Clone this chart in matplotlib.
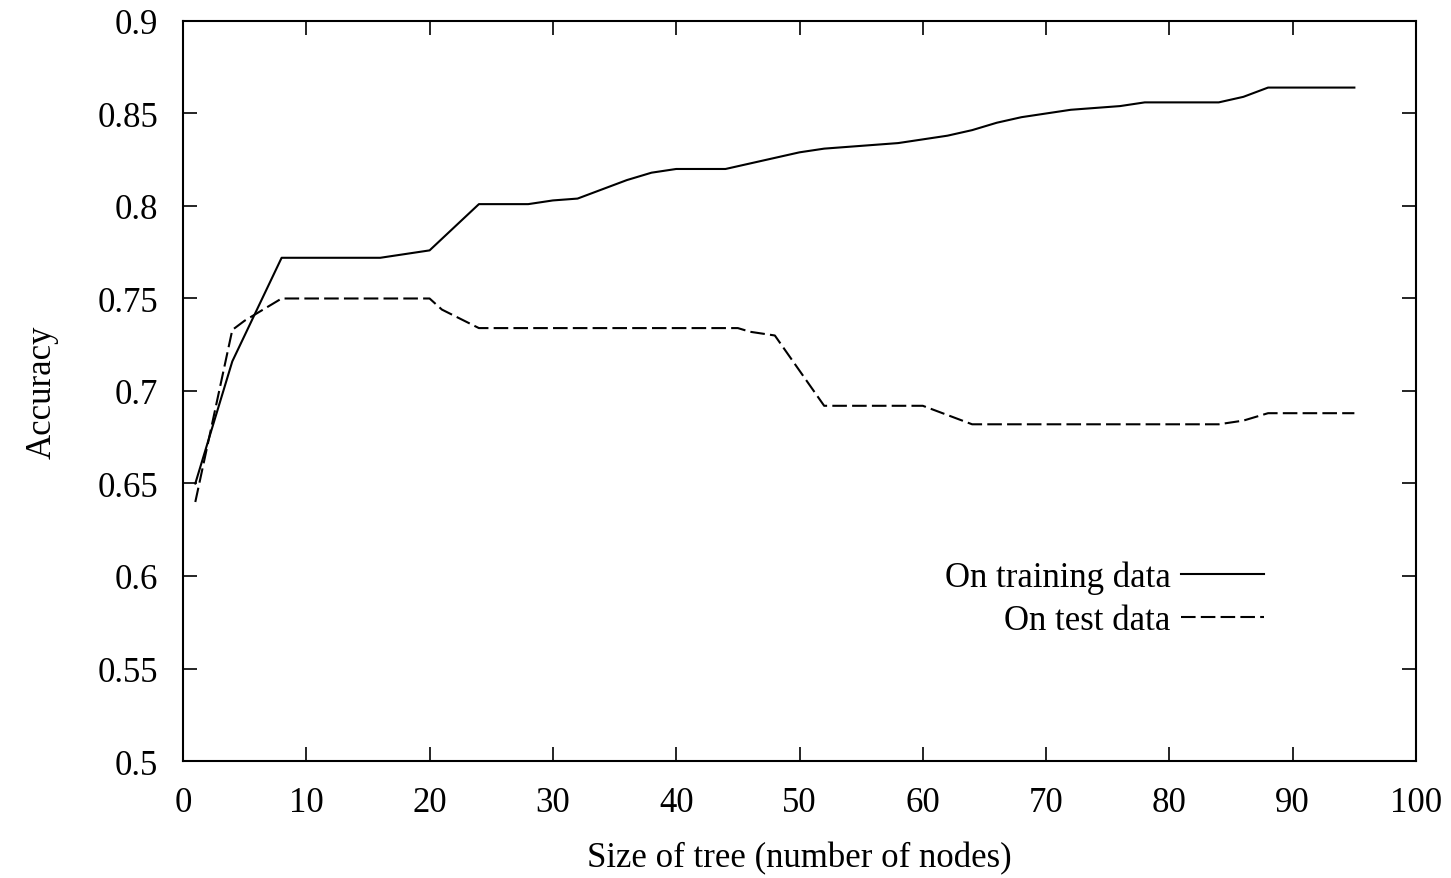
import matplotlib
matplotlib.use('Agg')
import matplotlib.pyplot as plt
from matplotlib.ticker import FuncFormatter

# Accuracy vs. tree size
train_size = [1, 4, 8, 16, 18, 20, 24, 28, 30, 32, 34, 36, 38, 40, 44, 46, 48, 50,
              52, 54, 56, 58, 60, 62, 64, 66, 68, 70, 72, 74, 76, 78, 84, 86, 88, 95]
train_acc = [0.650, 0.716, 0.772, 0.772, 0.774, 0.776, 0.801, 0.801, 0.803, 0.804,
             0.809, 0.814, 0.818, 0.820, 0.820, 0.823, 0.826, 0.829, 0.831, 0.832,
             0.833, 0.834, 0.836, 0.838, 0.841, 0.845, 0.848, 0.850, 0.852, 0.853,
             0.854, 0.856, 0.856, 0.859, 0.864, 0.864]

test_size = [1, 4, 5, 6, 8, 20, 21, 24, 45, 46, 48, 52, 60, 64, 84, 86, 87, 88, 95]
test_acc = [0.640, 0.733, 0.738, 0.742, 0.750, 0.750, 0.744, 0.734, 0.734, 0.732,
            0.730, 0.692, 0.692, 0.682, 0.682, 0.684, 0.686, 0.688, 0.688]

x_ticks = list(range(0, 101, 10))
y_ticks = [0.5, 0.55, 0.6, 0.65, 0.7, 0.75, 0.8, 0.85, 0.9]

plt.rcParams['font.family'] = ['Liberation Serif', 'DejaVu Serif']
FS = 25

fig = plt.figure(figsize=(14.51, 8.79), dpi=100)
ax = fig.add_axes([0.1261, 0.1331, 0.8498, 0.8419])

ax.plot(train_size, train_acc, color='black', lw=1.5, label='On training data')
ax.plot(test_size, test_acc, color='black', lw=1.5, dashes=(7, 2.5),
        label='On test data')

ax.set_xlim(0, 100)
ax.set_ylim(0.5, 0.9)
ax.set_xticks(x_ticks)
ax.set_yticks(y_ticks)
ax.yaxis.set_major_formatter(FuncFormatter(lambda v, p: f"{v:g}"))
ax.tick_params(direction='in', length=10, width=1.2, top=True, right=True,
               labelsize=FS)
ax.tick_params(axis='x', pad=18)
ax.tick_params(axis='y', pad=18)
for s in ax.spines.values():
    s.set_linewidth(1.5)

ax.set_xlabel('Size of tree (number of nodes)', fontsize=FS, labelpad=16)
ax.set_ylabel('Accuracy', fontsize=FS, labelpad=28)

ax.legend(loc='center right', bbox_to_anchor=(0.891, 0.219), frameon=False,
          markerfirst=False, fontsize=FS, handlelength=2.4, handletextpad=0.3,
          labelspacing=0.3, borderpad=0)

plt.savefig('out.png', dpi=100)
plt.close()
